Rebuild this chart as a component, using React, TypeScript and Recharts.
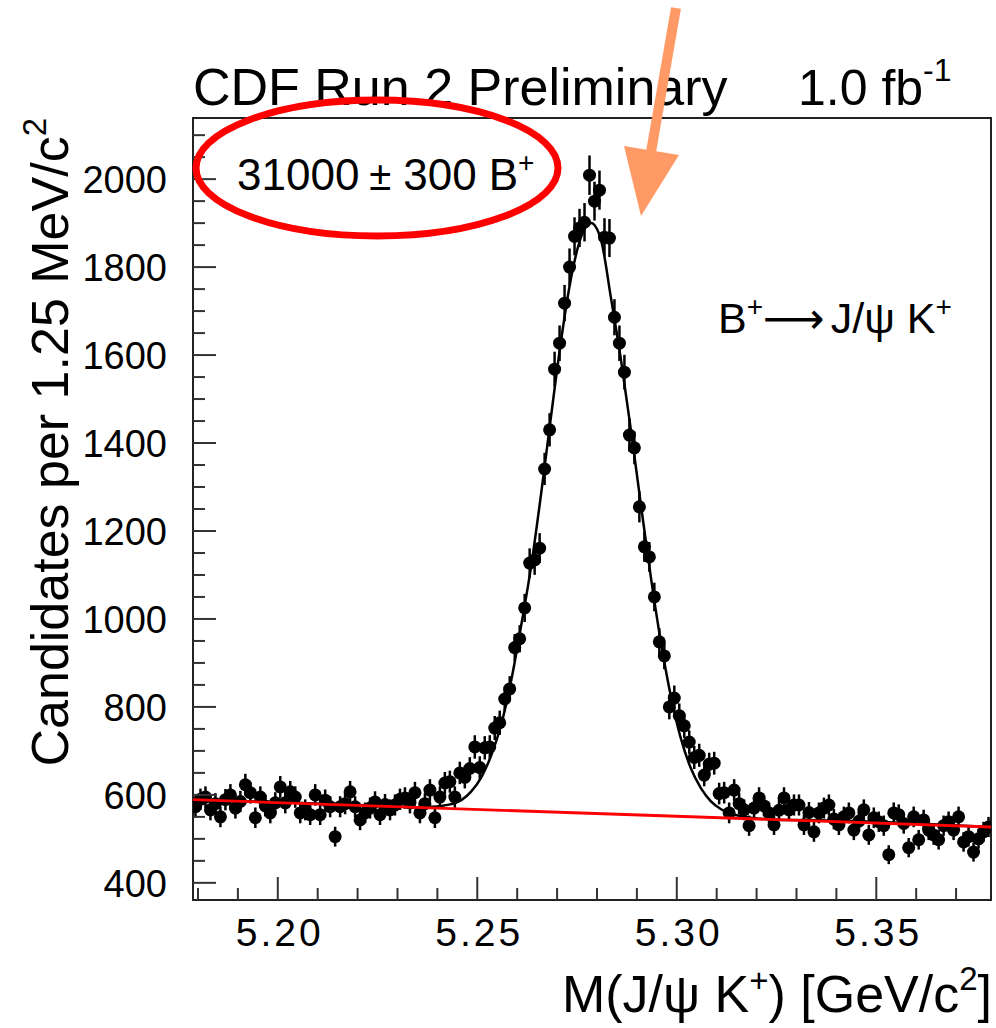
import React from 'react';
import { ComposedChart, Scatter, Line, XAxis, YAxis, ErrorBar, ReferenceArea } from 'recharts';

// ---- data ----
const binLow = 5.17875;
const binWidth = 0.00125;
const counts = [
  573, 590, 595, 566, 580, 550, 589, 600, 570, 585,
  623, 605, 548, 595, 575, 559, 582, 618, 582, 607,
  595, 559, 566, 555, 600, 555, 588, 573, 505, 573,
  580, 607, 573, 543, 559, 570, 584, 555, 578, 566,
  577, 590, 593, 582, 605, 559, 580, 611, 548, 595,
  627, 630, 595, 650, 640, 660, 709, 662, 707, 709,
  752, 764, 818, 841, 935, 955, 1025, 1127, 1134, 1161,
  1341, 1430, 1568, 1627, 1718, 1800, 1870, 1889, 1902, 2009,
  1950, 1975, 1868, 1866, 1686, 1627, 1561, 1418, 1389, 1255,
  1164, 1141, 1050, 948, 916, 800, 820, 780, 757, 720,
  685, 690, 645, 670, 672, 603, 605, 559, 611, 580,
  566, 530, 570, 593, 575, 559, 532, 565, 593, 566,
  577, 577, 532, 560, 516, 559, 570, 577, 545, 532,
  550, 559, 520, 540, 566, 509, 548, 539, 530, 464,
  559, 555, 535, 480, 550, 498, 543, 520, 509, 498,
  530, 539, 520, 550, 493, 505, 470, 500, 516, 527,
];

const fitMass = [
  5.17875, 5.2285, 5.2310, 5.2335, 5.2360, 5.2385, 5.2410, 5.2435, 5.2460, 5.2485,
  5.2510, 5.2535, 5.2560, 5.2585, 5.2610, 5.2635, 5.2660, 5.2685, 5.2710, 5.2735,
  5.2760, 5.2785, 5.2810, 5.2835, 5.2860, 5.2885, 5.2910, 5.2935, 5.2960, 5.2985,
  5.3010, 5.3035, 5.3060, 5.3085, 5.3110, 5.3135, 5.3160, 5.3185, 5.3210, 5.3235,
  5.3260, 5.3285, 5.37875,
];
const fitValue = [
  589, 574, 573, 572, 572, 573, 575, 579, 588, 608,
  640, 690, 760, 860, 985, 1120, 1285, 1462, 1633, 1775,
  1868, 1900, 1862, 1730, 1590, 1430, 1260, 1095, 948, 825,
  729, 661, 616, 586, 568, 557, 552, 548, 546, 544,
  543, 543, 527,
];

const bgMass = [5.17875, 5.37875];
const bgValue = [589, 527];

const xTicks = [5.18, 5.19, 5.20, 5.21, 5.22, 5.23, 5.24, 5.25, 5.26, 5.27, 5.28, 5.29, 5.30, 5.31, 5.32, 5.33, 5.34, 5.35, 5.36, 5.37];
const xMajor = [5.20, 5.25, 5.30, 5.35];
const yTicks = [400, 450, 500, 550, 600, 650, 700, 750, 800, 850, 900, 950, 1000, 1050, 1100, 1150, 1200, 1250, 1300, 1350, 1400, 1450, 1500, 1550, 1600, 1650, 1700, 1750, 1800, 1850, 1900, 1950, 2000, 2050, 2100];
const yMajor = [400, 600, 800, 1000, 1200, 1400, 1600, 1800, 2000];

const xDomain = [5.17875, 5.37875];
const yDomain = [361, 2139];

// ---- derived tables ----
const points = counts.map((c, i) => ({
  mass: binLow + (i + 0.5) * binWidth,
  count: c,
  err: Math.sqrt(c),
}));
const fitData = fitMass.map((m, i) => ({ mass: m, fit: fitValue[i] }));
const bgData = bgMass.map((m, i) => ({ mass: m, bg: bgValue[i] }));

const FONT = '"Liberation Sans", Arial, Helvetica, sans-serif';
const TICK_COLOR = '#333';

const XTick = (props: any) => {
  const { x, y, payload } = props;
  const v = payload.value as number;
  const major = xMajor.some((m) => Math.abs(m - v) < 1e-6);
  return (
    <g>
      <line x1={x} x2={x} y1={y} y2={y - (major ? 23 : 12)} stroke={TICK_COLOR} strokeWidth={2} />
      {major && (
        <text x={x + 2} y={y + 46} textAnchor="middle" fontSize={39} letterSpacing={3} fill="#000" fontFamily={FONT}>
          {v.toFixed(2)}
        </text>
      )}
    </g>
  );
};

const YTick = (props: any) => {
  const { x, y, payload } = props;
  const v = payload.value as number;
  const major = yMajor.includes(v);
  return (
    <g>
      <line x1={x} x2={x + (major ? 23 : 12)} y1={y} y2={y} stroke={TICK_COLOR} strokeWidth={2} />
      {major && (
        <text x={x - 26} y={y + 14} textAnchor="end" fontSize={38} fill="#000" fontFamily={FONT}>
          {v}
        </text>
      )}
    </g>
  );
};

const Dot = (p: any) => <circle cx={p.cx} cy={p.cy} r={6.5} fill="#000" />;

export default function App() {
  return (
    <div style={{ position: 'absolute', left: 0, top: 0, width: 996, height: 1028, background: '#fff', fontFamily: FONT }}>
      <ComposedChart width={996} height={1028} margin={{ top: 118, right: 5, bottom: 0, left: 0 }}>
        <XAxis
          dataKey="mass"
          type="number"
          domain={xDomain}
          allowDataOverflow
          ticks={xTicks}
          interval={0}
          tickLine={false}
          tickSize={0}
          tickMargin={0}
          height={128}
          axisLine={false}
          tick={<XTick />}
        />
        <YAxis
          type="number"
          domain={yDomain}
          allowDataOverflow
          ticks={yTicks}
          interval={0}
          tickLine={false}
          tickSize={0}
          tickMargin={0}
          width={193}
          axisLine={false}
          tick={<YTick />}
        />
        <ReferenceArea
          x1={xDomain[0]}
          x2={xDomain[1]}
          y1={yDomain[0]}
          y2={yDomain[1]}
          fill="none"
          fillOpacity={0}
          stroke="#222"
          strokeWidth={2}
          ifOverflow="visible"
        />
        <Scatter data={points} dataKey="count" shape={<Dot />} isAnimationActive={false}>
          <ErrorBar dataKey="err" direction="y" width={0} stroke="#000" strokeWidth={2.5} />
        </Scatter>
        <Line
          data={fitData}
          dataKey="fit"
          type="monotone"
          dot={false}
          stroke="#000"
          strokeWidth={2.5}
          isAnimationActive={false}
          zIndex={700}
        />
        <Line
          data={bgData}
          dataKey="bg"
          type="linear"
          dot={false}
          stroke="#ff0000"
          strokeWidth={2.8}
          isAnimationActive={false}
          zIndex={800}
        />
      </ComposedChart>
      <svg
        width={996}
        height={1028}
        style={{ position: 'absolute', left: 0, top: 0, pointerEvents: 'none' }}
        fontFamily={FONT}
      >
        <text x={193} y={105} fontSize={52} fill="#000">CDF Run 2 Preliminary</text>
        <text x={798} y={105} fontSize={50} fill="#000">
          1.0 fb<tspan fontSize={32} dy={-24}>-1</tspan>
        </text>
        <text transform="translate(68,118) rotate(-90)" textAnchor="end" fontSize={52} fill="#000">
          Candidates per 1.25 MeV/c<tspan fontSize={33} dy={-22}>2</tspan>
        </text>
        <text x={992} y={1012} textAnchor="end" fontSize={52} fill="#000">
          M(J/ψ K<tspan fontSize={33} dy={-20}>+</tspan><tspan dy={20}>) [GeV/c</tspan><tspan fontSize={33} dy={-22}>2</tspan><tspan dy={22}>]</tspan>
        </text>
        <text x={237} y={190} fontSize={44} fill="#000">
          31000<tspan dx={10} fontSize={40}>±</tspan><tspan dx={12}>300</tspan><tspan dx={12}>B</tspan><tspan fontSize={28} dy={-18}>+</tspan>
        </text>
        <text x={718} y={333} fontSize={43} fill="#000">
          B<tspan fontSize={28} dy={-17}>+</tspan><tspan dy={17} fontFamily='"DejaVu Sans", sans-serif'>⟶</tspan><tspan dx={6}>J/ψ K</tspan><tspan fontSize={28} dy={-17}>+</tspan>
        </text>
        <ellipse cx={377} cy={168} rx={181} ry={68} fill="none" stroke="#ff0000" strokeWidth={7} />
        <line x1={676} y1={8} x2={651} y2={152} stroke="#ff9a66" strokeWidth={10} />
        <polygon points="624,146 679,155 641,216" fill="#ff9a66" />
      </svg>
    </div>
  );
}
